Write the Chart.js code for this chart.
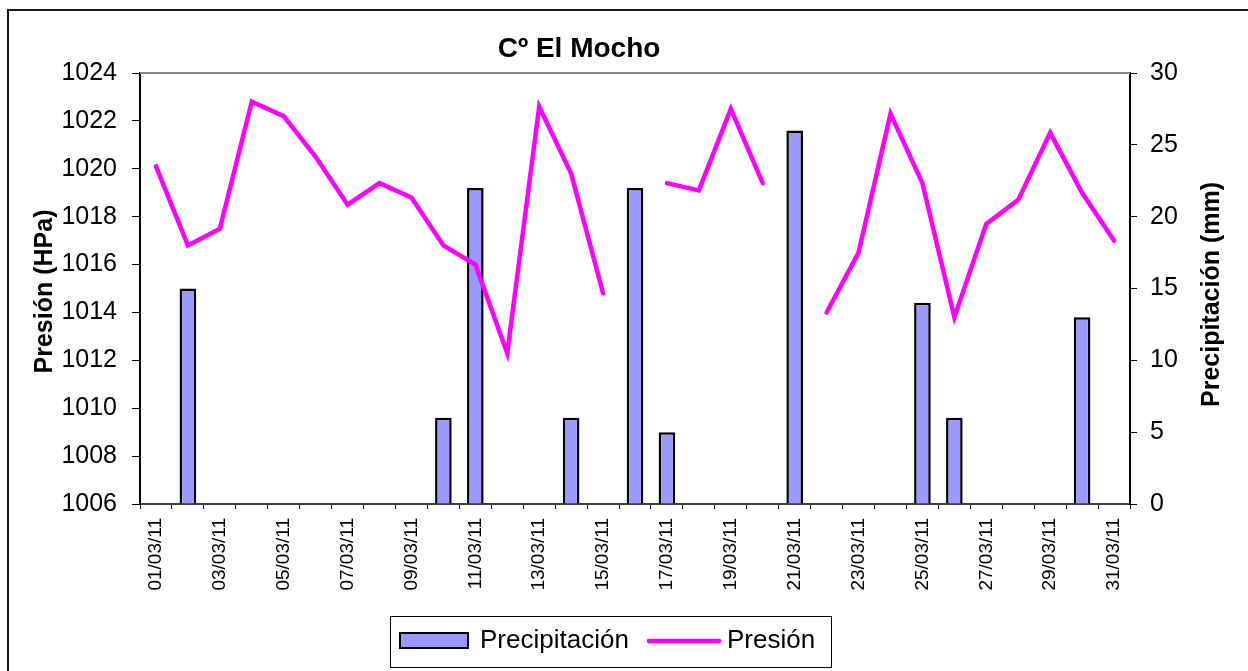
<!DOCTYPE html>
<html lang="es">
<head>
<meta charset="utf-8">
<title>Cº El Mocho</title>
<script src="https://cdn.jsdelivr.net/npm/chart.js@4.4.1/dist/chart.umd.min.js"></script>
<style>
  html, body { margin: 0; padding: 0; background: #fff; }
  canvas { display: block; }
</style>
</head>
<body>
<canvas id="chart" width="1248" height="671"></canvas>
<script>
// Daily data, March 2011
const chartTitle = 'Cº El Mocho';
const days = [
  '01/03/11', '02/03/11', '03/03/11', '04/03/11', '05/03/11', '06/03/11', '07/03/11', '08/03/11',
  '09/03/11', '10/03/11', '11/03/11', '12/03/11', '13/03/11', '14/03/11', '15/03/11', '16/03/11',
  '17/03/11', '18/03/11', '19/03/11', '20/03/11', '21/03/11', '22/03/11', '23/03/11', '24/03/11',
  '25/03/11', '26/03/11', '27/03/11', '28/03/11', '29/03/11', '30/03/11', '31/03/11'
];
// Precipitation (mm)
const precipitacion = [
  0, 15, 0, 0, 0, 0, 0, 0, 0, 6, 22, 0, 0, 6, 0, 22,
  5, 0, 0, 0, 26, 0, 0, 0, 14, 6, 0, 0, 0, 13, 0
];
// Pressure (hPa); null = no reading
const presion = [
  1020.1, 1016.8, 1017.5, 1022.8, 1022.2, 1020.5, 1018.5, 1019.4, 1018.8, 1016.8, 1016.0,
  1012.3, 1022.6, 1019.8, 1014.8, null, 1019.4, 1019.1, 1022.5, 1019.4, null, 1014.0,
  1016.5, 1022.3, 1019.4, 1013.8, 1017.7, 1018.7, 1021.5, 1019.0, 1017.0
];
const presionTicks = [1006, 1008, 1010, 1012, 1014, 1016, 1018, 1020, 1022, 1024];
const precipTicks = [0, 5, 10, 15, 20, 25, 30];
const presionTitle = 'Presión (HPa)';
const precipTitle = 'Precipitación (mm)';

const FONT = '"Liberation Sans", Arial, Helvetica, sans-serif';

// Frame, plot-area top edge, title, rotated axis titles and boxed legend
const decor = {
  id: 'decor',
  beforeDraw(chart) {
    const { ctx, width, height } = chart;
    ctx.save();
    ctx.fillStyle = '#fff';
    ctx.fillRect(0, 0, width, height);
    ctx.strokeStyle = '#1a1a1a';
    ctx.lineWidth = 2;
    ctx.beginPath();
    ctx.moveTo(8, height);
    ctx.lineTo(8, 10);
    ctx.lineTo(width, 10);
    ctx.stroke();
    ctx.restore();
  },
  beforeDatasetsDraw(chart) {
    const { ctx, chartArea: a } = chart;
    ctx.save();
    ctx.strokeStyle = '#888';
    ctx.lineWidth = 2;
    ctx.beginPath();
    ctx.moveTo(a.left, a.top);
    ctx.lineTo(a.right, a.top);
    ctx.stroke();
    ctx.restore();
  },
  afterDraw(chart) {
    const { ctx, chartArea: a } = chart;
    const mid = (a.top + a.bottom) / 2;
    ctx.save();
    ctx.fillStyle = '#000';

    // chart title
    ctx.font = 'bold 28px ' + FONT;
    ctx.textAlign = 'center';
    ctx.textBaseline = 'alphabetic';
    ctx.fillText(chartTitle, 579, 57);

    // axis titles, both reading bottom to top
    ctx.font = 'bold 25px ' + FONT;
    ctx.textBaseline = 'middle';
    [[45, mid + 3, presionTitle], [1212, mid + 6, precipTitle]].forEach(([x, y, t]) => {
      ctx.save();
      ctx.translate(x, y);
      ctx.rotate(-Math.PI / 2);
      ctx.fillText(t, 0, 0);
      ctx.restore();
    });

    // legend
    const bar = chart.data.datasets[0];
    const line = chart.data.datasets[1];
    ctx.strokeStyle = '#000';
    ctx.lineWidth = 1;
    ctx.strokeRect(390.5, 616.5, 441, 51);

    ctx.fillStyle = bar.backgroundColor;
    ctx.fillRect(400, 633, 68, 15);
    ctx.strokeStyle = bar.borderColor;
    ctx.lineWidth = 2;
    ctx.strokeRect(400, 633, 68, 15);

    ctx.strokeStyle = line.borderColor;
    ctx.lineWidth = 4.5;
    ctx.lineCap = 'round';
    ctx.beginPath();
    ctx.moveTo(649, 641);
    ctx.lineTo(719, 641);
    ctx.stroke();

    ctx.fillStyle = '#000';
    ctx.font = '26px ' + FONT;
    ctx.textAlign = 'left';
    ctx.textBaseline = 'alphabetic';
    ctx.fillText(bar.label, 480, 648);
    ctx.fillText(line.label, 727, 648);
    ctx.restore();
  }
};

const plainNumber = v => String(v);

new Chart(document.getElementById('chart'), {
  type: 'bar',
  data: {
    labels: days,
    datasets: [
      {
        type: 'bar',
        label: 'Precipitación',
        data: precipitacion,
        yAxisID: 'y1',
        backgroundColor: '#9999ff',
        borderColor: '#000',
        borderWidth: 2.5,
        barPercentage: 0.52,
        categoryPercentage: 1,
        order: 2
      },
      {
        type: 'line',
        label: 'Presión',
        data: presion,
        yAxisID: 'y',
        borderColor: '#ff00ff',
        backgroundColor: '#ff00ff',
        borderWidth: 4.5,
        pointRadius: 0,
        tension: 0,
        spanGaps: false,
        borderCapStyle: 'round',
        borderJoinStyle: 'miter',
        order: 1
      }
    ]
  },
  options: {
    responsive: false,
    animation: false,
    devicePixelRatio: 1,
    layout: { padding: { top: 73, left: 0, right: 0, bottom: 0 } },
    plugins: {
      legend: { display: false },
      title: { display: false },
      tooltip: { enabled: false }
    },
    scales: {
      x: {
        position: 'bottom',
        offset: true,
        grid: { offset: true, drawOnChartArea: false, drawTicks: true, tickLength: 5, color: '#000', lineWidth: 1 },
        border: { display: true, color: '#404040', width: 2 },
        ticks: {
          autoSkip: false,
          maxRotation: 90,
          minRotation: 90,
          padding: 9,
          color: '#000',
          font: { family: FONT, size: 19 },
          callback(value, index) { return index % 2 === 0 ? this.getLabelForValue(value) : ''; }
        },
        afterFit(scale) { scale.height = 167; }
      },
      y: {
        position: 'left',
        min: presionTicks[0],
        max: presionTicks[presionTicks.length - 1],
        afterBuildTicks(scale) { scale.ticks = presionTicks.map(v => ({ value: v })); },
        ticks: { padding: 15, color: '#000', font: { family: FONT, size: 25 }, callback: plainNumber },
        grid: { drawOnChartArea: false, drawTicks: true, tickLength: 8, color: '#000', lineWidth: 1 },
        border: { display: true, color: '#000', width: 2 },
        afterFit(scale) { scale.width = 140; }
      },
      y1: {
        position: 'right',
        min: precipTicks[0],
        max: precipTicks[precipTicks.length - 1],
        afterBuildTicks(scale) { scale.ticks = precipTicks.map(v => ({ value: v })); },
        ticks: { padding: 13, color: '#000', font: { family: FONT, size: 25 }, callback: plainNumber },
        grid: { drawOnChartArea: false, drawTicks: true, tickLength: 7, color: '#000', lineWidth: 1 },
        border: { display: true, color: '#000', width: 2 },
        afterFit(scale) { scale.width = 118; }
      }
    }
  },
  plugins: [decor]
});
</script>
</body>
</html>
